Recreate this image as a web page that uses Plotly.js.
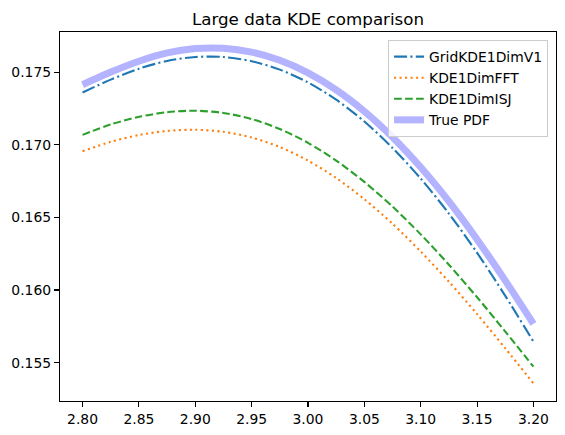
<!DOCTYPE html>
<html>
<head>
<meta charset="utf-8">
<script src="https://cdn.plot.ly/plotly-3.0.1.min.js"></script>
<style>
html,body{margin:0;padding:0;background:#fff;}
#chart{width:565px;height:435px;}
</style>
</head>
<body>
<div id="chart"></div>
<script>
const xGrid = [2.800, 2.825, 2.850, 2.875, 2.900, 2.925, 2.950, 2.975, 3.000, 3.025, 3.050, 3.075, 3.100, 3.125, 3.150, 3.175, 3.200];

const gridKDE1DimV1 = [0.17360, 0.17448, 0.17523, 0.17577, 0.17604, 0.17604, 0.17575, 0.17517, 0.17429, 0.17310, 0.17160, 0.16978, 0.16767, 0.16526, 0.16256, 0.15960, 0.15645];
const kde1DimFFT   = [0.16955, 0.17020, 0.17067, 0.17095, 0.17103, 0.17089, 0.17050, 0.16984, 0.16891, 0.16771, 0.16625, 0.16456, 0.16265, 0.16057, 0.15834, 0.15599, 0.15356];
const kde1DimISJ   = [0.17068, 0.17140, 0.17192, 0.17224, 0.17234, 0.17219, 0.17177, 0.17108, 0.17013, 0.16891, 0.16744, 0.16574, 0.16383, 0.16174, 0.15950, 0.15714, 0.15472];
const truePDF      = [0.17413, 0.17500, 0.17575, 0.17632, 0.17662, 0.17664, 0.17637, 0.17581, 0.17495, 0.17378, 0.17230, 0.17052, 0.16845, 0.16610, 0.16348, 0.16065, 0.15767];

const seriesNames = ["GridKDE1DimV1", "KDE1DimFFT", "KDE1DimISJ", "True PDF"];
const xTickVals = [2.80, 2.85, 2.90, 2.95, 3.00, 3.05, 3.10, 3.15, 3.20];
const yTickVals = [0.155, 0.160, 0.165, 0.170, 0.175];

const FONT = "DejaVu Sans, sans-serif";

const traces = [
  {x: xGrid, y: gridKDE1DimV1, name: seriesNames[0], mode: "lines",
   line: {color: "#1f77b4", width: 2.1, dash: "13px,3.3px,2.1px,3.3px", shape: "spline", smoothing: 0.8}},
  {x: xGrid, y: kde1DimFFT, name: seriesNames[1], mode: "lines",
   line: {color: "#ff7f0e", width: 2.1, dash: "2.1px,3.4px", shape: "spline", smoothing: 0.8}},
  {x: xGrid, y: kde1DimISJ, name: seriesNames[2], mode: "lines",
   line: {color: "#2ca02c", width: 2.1, dash: "7.7px,3.3px", shape: "spline", smoothing: 0.8}},
  {x: xGrid, y: truePDF, name: seriesNames[3], mode: "lines",
   line: {color: "rgb(179,179,255)", width: 7, shape: "spline", smoothing: 0.8}}
];

const axisCommon = {
  showgrid: false, zeroline: false,
  showline: true, mirror: true, linecolor: "#000", linewidth: 1.1,
  ticks: "outside", ticklen: 5, tickwidth: 1.1, tickcolor: "#000",
  tickfont: {family: FONT, size: 13.9, color: "#000"}
};

const layout = {
  width: 565, height: 435,
  margin: {l: 60, r: 9, t: 32, b: 34, pad: 0},
  paper_bgcolor: "#fff", plot_bgcolor: "#fff",
  title: {text: "Large data KDE comparison", font: {family: FONT, size: 16.7, color: "#000"},
          xref: "paper", x: 0.5, xanchor: "center", yref: "container", y: 1 - 19/435, yanchor: "middle"},
  xaxis: Object.assign({}, axisCommon, {range: [2.78, 3.22], tickvals: xTickVals, tickformat: ".2f"}),
  yaxis: Object.assign({}, axisCommon, {range: [0.15236, 0.17776], tickvals: yTickVals, tickformat: ".3f"}),
  showlegend: true,
  legend: {x: 0.984, xanchor: "right", y: 0.978, yanchor: "top",
           bgcolor: "rgba(255,255,255,0.8)", bordercolor: "#cccccc", borderwidth: 1,
           font: {family: FONT, size: 13.9, color: "#000"}, itemwidth: 30,
           tracegroupgap: 0}
};

Plotly.newPlot("chart", traces, layout, {staticPlot: true, displayModeBar: false});
</script>
</body>
</html>
